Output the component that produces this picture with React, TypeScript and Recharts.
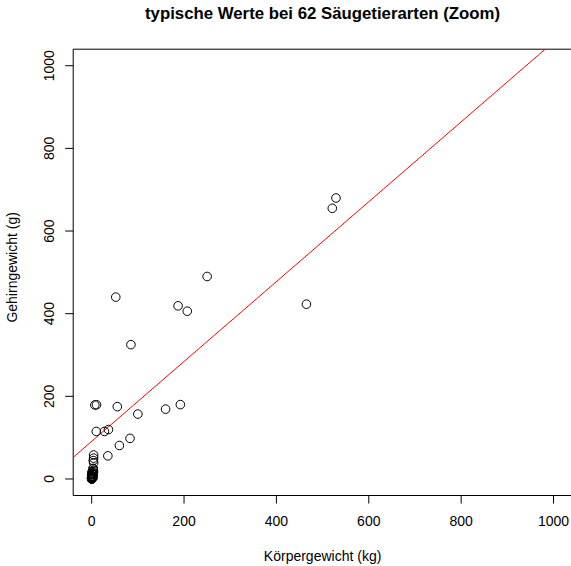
import {
  Label,
  ReferenceArea,
  ReferenceLine,
  Scatter,
  ScatterChart,
  XAxis,
  YAxis,
} from "recharts"

// mammals – body weight (kg) and brain weight (g), 62 species
const species = [
  "Arctic fox", "Owl monkey", "Mountain beaver", "Cow", "Grey wolf", "Goat",
  "Roe deer", "Guinea pig", "Verbet", "Chinchilla", "Ground squirrel",
  "Arctic ground squirrel", "African giant pouched rat",
  "Lesser short-tailed shrew", "Star-nosed mole", "Nine-banded armadillo",
  "Tree hyrax", "N.A. opossum", "Asian elephant", "Big brown bat", "Donkey",
  "Horse", "European hedgehog", "Patas monkey", "Cat", "Galago", "Genet",
  "Giraffe", "Gorilla", "Grey seal", "Rock hyrax-a", "Human",
  "African elephant", "Water opossum", "Rhesus monkey", "Kangaroo",
  "Yellow-bellied marmot", "Golden hamster", "Mouse", "Little brown bat",
  "Slow loris", "Okapi", "Rabbit", "Sheep", "Jaguar", "Chimpanzee", "Baboon",
  "Desert hedgehog", "Giant armadillo", "Rock hyrax-b", "Raccoon", "Rat",
  "E. American mole", "Mole rat", "Musk shrew", "Pig", "Echidna",
  "Brazilian tapir", "Tenrec", "Phalanger", "Tree shrew", "Red fox",
]

const bodyKg = [
  3.385, 0.48, 1.35, 465, 36.33, 27.66, 83, 1.04, 4.19, 0.425, 0.101, 0.92,
  1.0, 0.005, 0.06, 3.5, 2.0, 1.7, 2547, 0.023, 187.1, 521, 0.785, 10, 3.3,
  0.2, 1.41, 529, 207, 85, 0.75, 62, 6654, 3.5, 6.8, 35, 4.05, 0.12, 0.023,
  0.01, 1.4, 250, 2.5, 55.5, 100, 52.16, 10.55, 0.55, 60, 3.6, 4.288, 0.28,
  0.075, 0.122, 0.048, 192, 3, 160, 0.9, 1.62, 0.104, 4.235,
]

const brainG = [
  44.5, 15.5, 8.1, 423, 119.5, 115, 98.2, 5.5, 58, 6.4, 4, 5.7, 6.6, 0.14, 1,
  10.8, 12.3, 6.3, 4603, 0.3, 419, 655, 3.5, 115, 25.6, 5, 17.5, 680, 406, 325,
  12.3, 1320, 5712, 3.9, 179, 56, 17, 1, 0.4, 0.25, 12.5, 490, 12.1, 175, 157,
  440, 179.5, 2.4, 81, 21, 39.2, 1.9, 1.2, 3, 0.33, 180, 25, 169, 2.6, 11.4,
  2.5, 50.4,
]

// lm(brain ~ body)
const intercept = 91.0
const slope = 0.9665

const axisTicks = [0, 200, 400, 600, 800, 1000]
const domain: [number, number] = [-40, 1040]

const points = species.map((name, i) => ({ name, body: bodyKg[i], brain: brainG[i] }))

const font = '"Liberation Sans", Arial, Helvetica, sans-serif'

function OpenCircle(props: any) {
  return <circle cx={props.cx} cy={props.cy} r={4.3} fill="none" stroke="#000" strokeWidth={1} />
}

function YTick(props: any) {
  const { x, y, payload } = props
  return (
    <text
      x={x}
      y={y}
      transform={`rotate(-90 ${x} ${y})`}
      textAnchor="middle"
      fontSize={14}
      fontFamily={font}
      fill="#000"
    >
      {payload.value}
    </text>
  )
}

export default function App() {
  return (
    <div style={{ position: "absolute", left: 0, top: 0, width: 571, height: 566, overflow: "hidden", background: "#fff" }}>
      <svg width={571} height={30} style={{ position: "absolute", left: 0, top: 0 }}>
        <text x={322.5} y={19} textAnchor="middle" fontSize={16.8} fontWeight="bold" fontFamily={font} fill="#000">
          typische Werte bei 62 Säugetierarten (Zoom)
        </text>
      </svg>
      <ScatterChart width={572} height={566} margin={{ top: 49.2, right: 0, bottom: 0, left: 0 }}>
        <XAxis
          type="number"
          dataKey="body"
          domain={domain}
          ticks={axisTicks}
          allowDataOverflow
          axisLine={false}
          tickLine={{ stroke: "#000" }}
          tickSize={8}
          tickMargin={13}
          height={70.5}
          tick={{ fill: "#000", fontSize: 14, fontFamily: font }}
        >
          <Label
            content={({ viewBox }: any) => (
              <text
                x={viewBox.x + viewBox.width / 2}
                y={viewBox.y + 65}
                textAnchor="middle"
                fontSize={14}
                fontFamily={font}
                fill="#000"
              >
                Körpergewicht (kg)
              </text>
            )}
          />
        </XAxis>
        <YAxis
          type="number"
          dataKey="brain"
          domain={domain}
          ticks={axisTicks}
          allowDataOverflow
          axisLine={false}
          tickLine={{ stroke: "#000" }}
          tickSize={8}
          tickMargin={11}
          width={73.2}
          tick={<YTick />}
        >
          <Label
            content={({ viewBox }: any) => {
              const cx = 17
              const cy = viewBox.y + viewBox.height / 2 - 5
              return (
                <text
                  x={cx}
                  y={cy}
                  transform={`rotate(-90 ${cx} ${cy})`}
                  textAnchor="middle"
                  fontSize={14}
                  fontFamily={font}
                  fill="#000"
                >
                  Gehirngewicht (g)
                </text>
              )
            }}
          />
        </YAxis>
        <ReferenceArea x1={domain[0]} x2={domain[1]} y1={domain[0]} y2={domain[1]} fill="none" stroke="#000" strokeWidth={1} />
        <Scatter data={points} shape={<OpenCircle />} isAnimationActive={false} />
        <ReferenceLine
          segment={[
            { x: domain[0], y: intercept + slope * domain[0] },
            { x: domain[1], y: intercept + slope * domain[1] },
          ]}
          stroke="#ff0000"
          strokeWidth={1}
          ifOverflow="hidden"
        />
      </ScatterChart>
    </div>
  )
}
